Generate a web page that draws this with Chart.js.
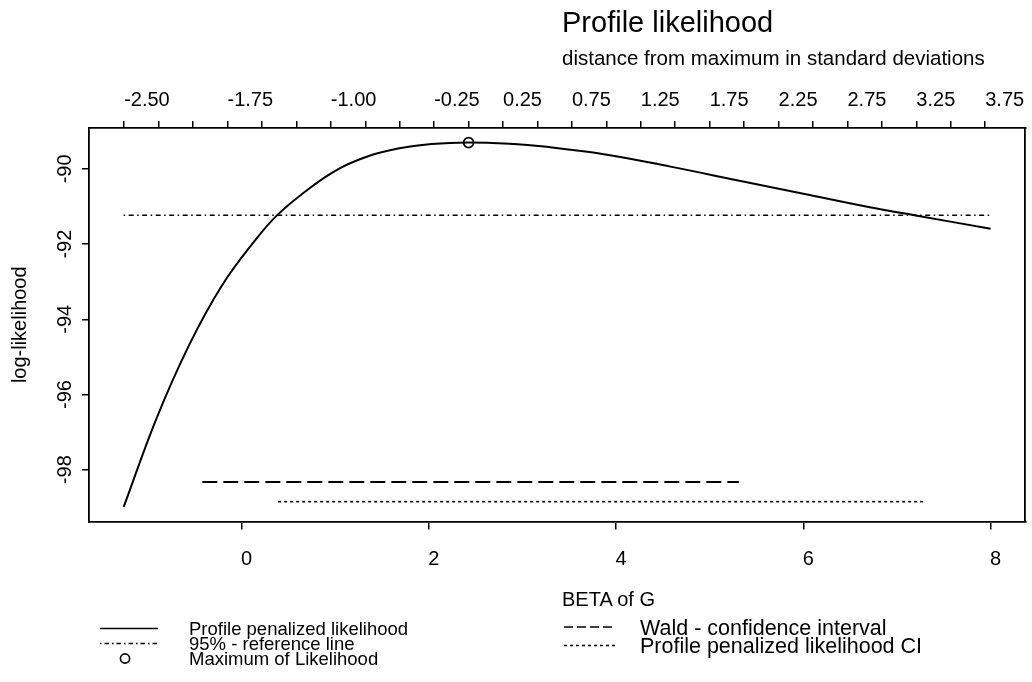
<!DOCTYPE html>
<html><head><meta charset="utf-8">
<script src="https://cdn.jsdelivr.net/npm/chart.js@4.4.1/dist/chart.umd.min.js"></script>
<style>
html,body{margin:0;padding:0;background:#fff;}
#wrap{position:relative;width:1032px;height:682px;}
#c{position:absolute;left:0;top:0;}
#overlay{position:absolute;left:0;top:0;pointer-events:none;}
#overlay text{font-family:"Liberation Sans",Arial,Helvetica,sans-serif;fill:#000;}
</style></head>
<body>
<div id="wrap">
<canvas id="c" width="1032" height="682"></canvas>
<svg id="overlay" width="1032" height="682" xmlns="http://www.w3.org/2000/svg"></svg>
</div>
<script>
// ---- data ----
const betaValues    = [-1.26, -0.91, -0.56, -0.21, 0.15, 0.38, 0.68, 1.00, 1.32, 1.67, 2.03, 2.42, 2.91, 3.20, 3.87, 4.58, 5.29, 6.00, 6.71, 7.20, 8.00];
const profileLogLik = [-98.99, -96.64, -94.68, -93.10, -91.88, -91.23, -90.60, -90.05, -89.69, -89.46, -89.34, -89.30, -89.34, -89.40, -89.61, -89.94, -90.30, -90.66, -91.02, -91.24, -91.59];
const maxBeta = [2.424];
const maxLogLik = [-89.30];
const refLineBeta = [-1.26, 8.00];
const refLineLogLik = [-91.23, -91.23];
const waldCIBeta = [-0.42, 5.31];
const waldCILogLik = [-98.33, -98.33];
const profileCIBeta = [0.39, 7.28];
const profileCILogLik = [-98.85, -98.85];
const sdOfBeta = 1.4716;
const bottomTicks = [0, 2, 4, 6, 8];
const leftTicks = [-98, -96, -94, -92, -90];
const topTickValues = [-2.5, -2.25, -2, -1.75, -1.5, -1.25, -1, -0.75, -0.5, -0.25, 0, 0.25, 0.5, 0.75, 1, 1.25, 1.5, 1.75, 2, 2.25, 2.5, 2.75, 3, 3.25, 3.5, 3.75];
const topTickLabels = ['-2.50', '-1.75', '-1.00', '-0.25', '0.25', '0.75', '1.25', '1.75', '2.25', '2.75', '3.25', '3.75'];
const titleText = 'Profile likelihood';
const subtitleText = 'distance from maximum in standard deviations';
const xTitle = 'BETA of G';
const yTitle = 'log-likelihood';
const seriesNames = ['Profile penalized likelihood', '95% - reference line', 'Maximum of Likelihood', 'Wald - confidence interval', 'Profile penalized likelihood CI'];

// ---- styles ----
const FONT = '"Liberation Sans", Arial, Helvetica, sans-serif';
const DOTDASH = [1.5, 3.5, 5, 3.5];
const LONGDASH = [15, 6];
const DOTTED = [3, 3];
const LEGEND_DASH = {1: [1.5, 3, 4.5, 3], 3: [9, 4], 4: [3, 3]};

function pts(xs, ys) { return xs.map((x, i) => ({x: x, y: ys[i]})); }
const allX = betaValues.concat(refLineBeta, waldCIBeta, profileCIBeta, maxBeta);
const allY = profileLogLik.concat(refLineLogLik, waldCILogLik, profileCILogLik, maxLogLik);
const xLo = Math.min(...allX), xHi = Math.max(...allX);
const yLo = Math.min(...allY), yHi = Math.max(...allY);
const xMin = xLo - 0.04 * (xHi - xLo), xMax = xHi + 0.04 * (xHi - xLo);
const yMin = yLo - 0.04 * (yHi - yLo), yMax = yHi + 0.04 * (yHi - yLo);

const datasets = [
  {label: seriesNames[0], data: pts(betaValues, profileLogLik), showLine: true, borderColor: '#000', borderWidth: 2, pointRadius: 0, tension: 0.4, fill: false},
  {label: seriesNames[1], data: pts(refLineBeta, refLineLogLik), showLine: true, borderColor: '#000', borderWidth: 1.5, borderDash: DOTDASH, pointRadius: 0, fill: false},
  {label: seriesNames[2], data: pts(maxBeta, maxLogLik), showLine: false, borderColor: '#000', backgroundColor: 'rgba(0,0,0,0)', pointRadius: 5, pointBorderWidth: 1.7, pointStyle: 'circle'},
  {label: seriesNames[3], data: pts(waldCIBeta, waldCILogLik), showLine: true, borderColor: '#000', borderWidth: 2, borderDash: LONGDASH, pointRadius: 0, fill: false},
  {label: seriesNames[4], data: pts(profileCIBeta, profileCILogLik), showLine: true, borderColor: '#000', borderWidth: 1.6, borderDash: DOTTED, pointRadius: 0, fill: false}
];

const axisGrid = (len) => ({drawOnChartArea: false, drawTicks: true, tickLength: len, color: '#000', lineWidth: 1.5});
const axisBorder = {display: true, color: '#000', width: 1.8};
const tickFont = {family: FONT, size: 20};
function zeroPad(s) { s.paddingLeft = 0; s.paddingRight = 0; s.paddingTop = 0; s.paddingBottom = 0; }

new Chart(document.getElementById('c'), {
  type: 'scatter',
  data: {datasets: datasets},
  options: {
    responsive: false, animation: false, devicePixelRatio: 1,
    layout: {padding: 0},
    plugins: {legend: {display: false}, title: {display: false}, tooltip: {enabled: false}},
    scales: {
      x: {
        type: 'linear', position: 'bottom', min: xMin, max: xMax, bounds: 'data',
        afterBuildTicks: s => { s.ticks = bottomTicks.map(v => ({value: v})); },
        afterFit: s => { s.height = 160.5; zeroPad(s); },
        grid: axisGrid(8), border: axisBorder,
        ticks: {color: '#000', font: tickFont, padding: 17.5, labelOffset: 5, autoSkip: false, maxRotation: 0, minRotation: 0, callback: v => String(v)}
      },
      x2: {
        type: 'linear', position: 'top', min: (xMin - maxBeta[0]) / sdOfBeta, max: (xMax - maxBeta[0]) / sdOfBeta, bounds: 'data',
        afterBuildTicks: s => { s.ticks = topTickValues.map(v => ({value: v})); },
        afterFit: s => { s.height = 128; zeroPad(s); },
        grid: axisGrid(7), border: axisBorder,
        ticks: {color: '#000', font: tickFont, padding: 8.7, align: 'start', autoSkip: false, maxRotation: 0, minRotation: 0,
          callback: v => { const t = Number(v).toFixed(2); return topTickLabels.includes(t) ? t : ''; }}
      },
      y: {
        type: 'linear', position: 'left', min: yMin, max: yMax, bounds: 'data',
        afterBuildTicks: s => { s.ticks = leftTicks.map(v => ({value: v})); },
        afterFit: s => { s.width = 89; zeroPad(s); },
        grid: axisGrid(7), border: axisBorder,
        ticks: {color: '#000', font: tickFont, padding: 2.5, minRotation: 90, maxRotation: 90, crossAlign: 'center', autoSkip: false, callback: v => String(v)},
        title: {display: true, text: yTitle, color: '#000', font: {family: FONT, size: 20}, padding: {top: 8, bottom: 0}}
      },
      y2: {
        type: 'linear', position: 'right', min: yMin, max: yMax, bounds: 'data',
        afterFit: s => { s.width = 1.5; zeroPad(s); },
        grid: {drawOnChartArea: false, drawTicks: false}, border: axisBorder,
        ticks: {display: false}
      }
    }
  }
});

// ---- title, subtitle, x-axis title and legend (SVG text) ----
const NS = 'http://www.w3.org/2000/svg';
const svg = document.getElementById('overlay');
function addText(str, x, y, size) {
  const t = document.createElementNS(NS, 'text');
  t.setAttribute('x', x); t.setAttribute('y', y); t.setAttribute('font-size', size);
  t.textContent = str; svg.appendChild(t);
}
function addLine(x1, x2, y, dash, w) {
  const l = document.createElementNS(NS, 'line');
  l.setAttribute('x1', x1); l.setAttribute('x2', x2); l.setAttribute('y1', y); l.setAttribute('y2', y);
  l.setAttribute('stroke', '#000'); l.setAttribute('stroke-width', w);
  if (dash && dash.length) l.setAttribute('stroke-dasharray', dash.join(' '));
  svg.appendChild(l);
}
function addCircle(x, y, r, w) {
  const c = document.createElementNS(NS, 'circle');
  c.setAttribute('cx', x); c.setAttribute('cy', y); c.setAttribute('r', r);
  c.setAttribute('fill', 'none'); c.setAttribute('stroke', '#000'); c.setAttribute('stroke-width', w);
  svg.appendChild(c);
}
addText(titleText, 562, 31.5, 29);
addText(subtitleText, 562, 65, 20.5);
addText(xTitle, 562, 605.5, 20);

const legendCols = [
  {x1: 100, x2: 158, tx: 189, rows: [628.5, 643.5, 658.5], size: 18.5},
  {x1: 564, x2: 616, tx: 640, rows: [627, 645.5], size: 21.5}
];
const legendItems = [
  {ds: 0, col: 0, row: 0}, {ds: 1, col: 0, row: 1}, {ds: 2, col: 0, row: 2},
  {ds: 3, col: 1, row: 0}, {ds: 4, col: 1, row: 1}
];
legendItems.forEach(it => {
  const d = datasets[it.ds], c = legendCols[it.col], y = c.rows[it.row];
  if (d.showLine) addLine(c.x1, c.x2, y, LEGEND_DASH[it.ds] || [], 1.5);
  else addCircle((c.x1 + c.x2) / 2 - 4, y, 4.6, 1.6);
  addText(d.label, c.tx, y + c.size * 0.36, c.size);
});
</script>
</body></html>
